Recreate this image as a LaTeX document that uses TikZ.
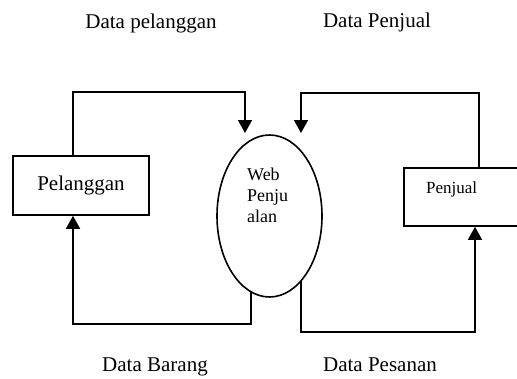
\documentclass[tikz,border=0pt]{standalone}
\usepackage{fontspec}
\setmainfont{Liberation Serif}
\usetikzlibrary{positioning,calc,arrows.meta,shapes.geometric}
\newcommand*{\txt}[2]{\fontsize{#1}{#1}\selectfont #2}

\begin{document}
\begin{tikzpicture}[x=1pt,y=-1pt,
  flow/.style={line width=1.6pt,-{Triangle[width=14pt,length=13pt]}},
  entity/.style={draw,line width=1.6pt,rectangle,inner sep=0pt}]
\path[use as bounding box,clip] (0,0) rectangle (517,378);
% External entities
\node[entity,minimum width=136pt,minimum height=59pt] (pelanggan) at (81,185.5) {\txt{21}{Pelanggan}};
\node[entity,minimum width=130pt,minimum height=58pt] (penjual) at (469,197) {};
\node[anchor=base west,inner sep=0pt] (penjualtxt) at (426,193) {\txt{17}{Penjual}};
% Process in the middle
\node[draw,ellipse,line width=1.6pt,minimum width=105pt,minimum height=162pt,inner sep=0pt] (web) at (269.5,216) {};
\node[anchor=north west,align=left,inner sep=0pt,font=\fontsize{18}{21}\selectfont] (webtxt) at (247,168) {Web\\Penju\\alan};
% Where the flows meet the process
\coordinate (in1) at (245,133);
\coordinate (in2) at (301,133);
\coordinate (out1) at (251,292);
\coordinate (out2) at (301,281);
% Data flows
\draw[flow] ([xshift=-8pt]pelanggan.north) |- (245,92) -- (in1);
\draw[flow] ([xshift=10pt]penjual.north) |- (301,93) -- (in2);
\draw[flow] (out1) -- (251,324) -| ([xshift=-8pt]pelanggan.south);
\draw[flow] (out2) -- (301,332) -| ([xshift=6pt]penjual.south);
% Flow labels
\node[anchor=base,inner sep=0pt] (lblpel) at (151,28) {\txt{21}{Data pelanggan}};
\node[anchor=base,inner sep=0pt] (lblpen) at (377,27) {\txt{21}{Data Penjual}};
\node[anchor=base,inner sep=0pt] (lblbar) at (155,371) {\txt{21}{Data Barang}};
\node[anchor=base,inner sep=0pt] (lblpes) at (380,371) {\txt{21}{Data Pesanan}};
\end{tikzpicture}
\end{document}
